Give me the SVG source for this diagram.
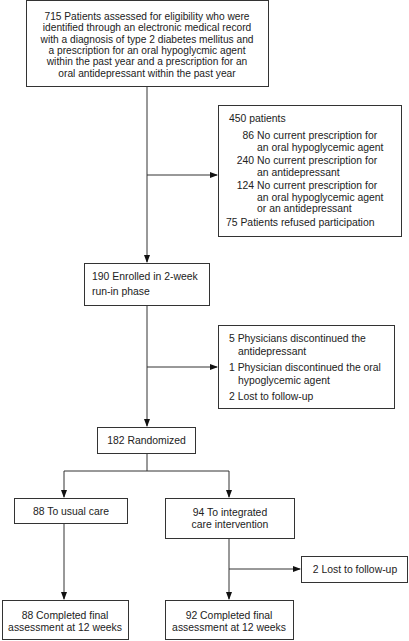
<svg xmlns="http://www.w3.org/2000/svg" width="409" height="641" viewBox="0 0 409 641">
<style>
.b{fill:#fff;stroke:#333;stroke-width:1}
.c{fill:none;stroke:#333;stroke-width:1}
text{font-family:"Liberation Sans",Arial,sans-serif;font-size:10.4px;fill:#222}
.t{font-size:10.2px}
.m{text-anchor:middle}
.e{text-anchor:end}
</style>
<defs>
<marker id="a" markerWidth="8" markerHeight="6" refX="7" refY="3" orient="auto" markerUnits="userSpaceOnUse">
<path d="M0,0 L8,3 L0,6 Z" fill="#111"/>
</marker>
</defs>
<rect width="409" height="641" fill="#fff"/>
<g id="connectors">
<path class="c" d="M147,87 V262" marker-end="url(#a)"/>
<path class="c" d="M147,175 H217" marker-end="url(#a)"/>
<path class="c" d="M147,306 V426" marker-end="url(#a)"/>
<path class="c" d="M147,367 H217" marker-end="url(#a)"/>
<path class="c" d="M147,453 V471"/>
<path class="c" d="M64,471 H229"/>
<path class="c" d="M64,471 V497" marker-end="url(#a)"/>
<path class="c" d="M229,471 V497" marker-end="url(#a)"/>
<path class="c" d="M64,523 V599" marker-end="url(#a)"/>
<path class="c" d="M229,539 V599" marker-end="url(#a)"/>
<path class="c" d="M229,569 H300" marker-end="url(#a)"/>
</g>
<g id="n1">
<rect class="b" x="26.5" y="0.5" width="242" height="86"/>
<text class="m t" x="147" y="20">715 Patients assessed for eligibility who were</text>
<text class="m t" x="147" y="31.3">identified through an electronic medical record</text>
<text class="m t" x="147" y="42.6">with a diagnosis of type 2 diabetes mellitus and</text>
<text class="m t" x="147" y="53.9">a prescription for an oral hypoglycmic agent</text>
<text class="m t" x="147" y="65.2">within the past year and a prescription for an</text>
<text class="m t" x="147" y="76.5">oral antidepressant within the past year</text>
</g>
<g id="n2">
<rect class="b" x="218.5" y="105.5" width="183" height="131"/>
<text x="229" y="122">450 patients</text>
<text class="e" x="254" y="139">86</text><text x="257" y="139">No current prescription for</text>
<text x="257" y="150.5">an oral hypoglycemic agent</text>
<text class="e" x="254" y="164">240</text><text x="257" y="164">No current prescription for</text>
<text x="257" y="175.5">an antidepressant</text>
<text class="e" x="254" y="189">124</text><text x="257" y="189">No current prescription for</text>
<text x="257" y="200.5">an oral hypoglycemic agent</text>
<text x="257" y="212">or an antidepressant</text>
<text x="226" y="226">75 Patients refused participation</text>
</g>
<g id="n3">
<rect class="b" x="84.5" y="263.5" width="125" height="42"/>
<text x="92" y="280">190 Enrolled in 2-week</text>
<text x="92" y="295">run-in phase</text>
</g>
<g id="n4">
<rect class="b" x="218.5" y="325.5" width="176" height="83"/>
<text x="229" y="342">5 Physicians discontinued the</text>
<text x="238" y="355">antidepressant</text>
<text x="229" y="371">1 Physician discontinued the oral</text>
<text x="238" y="384">hypoglycemic agent</text>
<text x="229" y="400">2 Lost to follow-up</text>
</g>
<g id="n5">
<rect class="b" x="97.5" y="427.5" width="98" height="26"/>
<text class="m" x="146.5" y="444">182 Randomized</text>
</g>
<g id="n6">
<rect class="b" x="14.5" y="498.5" width="113" height="25"/>
<text class="m" x="71" y="515">88 To usual care</text>
</g>
<g id="n7">
<rect class="b" x="165.5" y="498.5" width="129" height="40"/>
<text class="m" x="230" y="516">94 To integrated</text>
<text class="m" x="230" y="528">care intervention</text>
</g>
<g id="n8">
<rect class="b" x="301.5" y="556.5" width="106" height="26"/>
<text class="m" x="355" y="573">2 Lost to follow-up</text>
</g>
<g id="n9">
<rect class="b" x="2.5" y="600.5" width="126" height="39"/>
<text class="m" x="65" y="619">88 Completed final</text>
<text class="m" x="65" y="631">assessment at 12 weeks</text>
</g>
<g id="n10">
<rect class="b" x="165.5" y="600.5" width="128" height="39"/>
<text class="m" x="229" y="619">92 Completed final</text>
<text class="m" x="229" y="631">assessment at 12 weeks</text>
</g>
</svg>
